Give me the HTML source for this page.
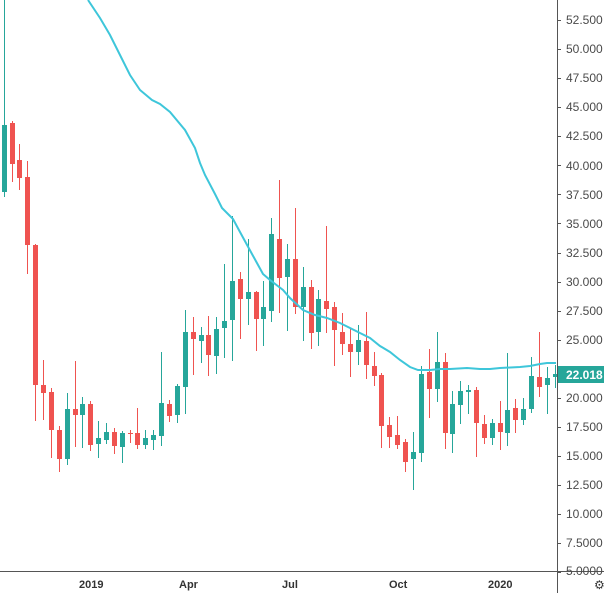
<!DOCTYPE html>
<html><head><meta charset="utf-8"><style>
html,body{margin:0;padding:0;background:#fff;width:604px;height:593px;overflow:hidden}
svg{display:block;font-family:"Liberation Sans",sans-serif}
.t{font-size:12px;fill:#4a4a4a}
.b{font-size:11px;fill:#333;font-weight:bold}
</style></head><body>
<svg id="s" width="604" height="593" viewBox="0 0 604 593">
<rect width="604" height="593" fill="#fff"/>
<g id="c"></g>
<polyline fill="none" stroke="#3ec6da" stroke-width="2" points="88,0 100,18 110,35 120,55 130,75 140,90 152,100 160,104 170,112 185,130 195,148 200,163 205,175 215,194 222,208 233,219 240,232 252,254 263,274 270,280 283,290 290,298 303,310 315,315 327,318 340,323 350,328 360,333 370,338 380,346 390,352 400,360 410,367 418,370 430,370 440,369 450,369 467,368 480,369 490,369 500,368 520,367 530,366 540,364 547,363 556,363"/>
<line x1="557.5" y1="0" x2="557.5" y2="593" stroke="#555"/>
<line x1="0" y1="571.5" x2="604" y2="571.5" stroke="#555"/>
<g id="ticks"></g>
<text class="t" x="566" y="24">52.500</text>
<text class="t" x="566" y="53">50.000</text>
<text class="t" x="566" y="82">47.500</text>
<text class="t" x="566" y="111">45.000</text>
<text class="t" x="566" y="140">42.500</text>
<text class="t" x="566" y="170">40.000</text>
<text class="t" x="566" y="199">37.500</text>
<text class="t" x="566" y="228">35.000</text>
<text class="t" x="566" y="257">32.500</text>
<text class="t" x="566" y="286">30.000</text>
<text class="t" x="566" y="315">27.500</text>
<text class="t" x="566" y="344">25.000</text>
<text class="t" x="566" y="402">20.000</text>
<text class="t" x="566" y="431">17.500</text>
<text class="t" x="566" y="460">15.000</text>
<text class="t" x="566" y="489">12.500</text>
<text class="t" x="566" y="518">10.000</text>
<text class="t" x="566" y="547">7.5000</text>
<text class="t" x="566" y="575">5.0000</text>
<rect x="558" y="366" width="46" height="17" fill="#26a69a"/>
<text x="566" y="379" font-size="12" font-weight="bold" fill="#fff">22.018</text>
<text class="b" x="79" y="588">2019</text>
<text class="b" x="179" y="588">Apr</text>
<text class="b" x="282" y="588">Jul</text>
<text class="b" x="389" y="588">Oct</text>
<text class="b" x="488" y="588">2020</text>
<text x="594" y="589" font-size="12" fill="#333">⚙</text>
</svg>
<script>
var d=[
[4,'g',125,192,0,197],[12,'r',123,164,121,182],[19,'r',160,178,144,190],[27,'r',177,245,161,274],[35,'r',245,385,244,421],[43,'r',385,393,360,420],[51,'r',392,430,388,458],[59,'r',430,459,426,472],[67,'g',409,459,393,465],[75,'r',409,415,361,447],[82,'g',404,415,397,448],[90,'r',404,445,401,451],[98,'g',438,444,421,458],[106,'g',432,440,423,444],[114,'r',432,446,428,454],[122,'g',433,447,431,463],[130,'r',433,434,430,443],[137,'r',433,445,408,449],[145,'g',438,445,430,449],[153,'g',435,440,430,450],[161,'g',403,436,352,446],[169,'r',404,416,400,422],[177,'g',386,415,384,423],[185,'g',332,387,310,414],[193,'r',332,339,317,375],[201,'g',335,341,327,363],[208,'r',335,355,316,376],[216,'g',329,356,317,374],[224,'g',321,328,264,358],[232,'g',281,320,216,361],[240,'r',279,299,272,339],[248,'g',292,299,239,325],[256,'r',292,319,291,351],[263,'g',307,319,281,346],[271,'g',234,311,218,322],[279,'r',239,278,180,313],[287,'g',259,277,244,331],[295,'r',259,307,208,314],[303,'g',287,307,267,341],[311,'r',287,333,280,349],[318,'g',299,332,290,346],[326,'r',301,309,226,333],[334,'r',307,330,302,366],[342,'r',332,344,313,355],[350,'r',344,352,329,377],[358,'g',340,352,325,365],[366,'r',341,365,312,379],[374,'r',366,376,352,386],[381,'r',375,426,373,448],[389,'r',425,437,417,448],[397,'r',435,445,416,449],[405,'r',442,462,439,472],[413,'g',452,459,432,490],[421,'g',374,453,366,462],[429,'r',372,389,349,418],[437,'g',362,389,332,402],[445,'r',362,433,353,449],[452,'g',404,434,391,453],[460,'g',391,405,381,424],[468,'g',390,392,385,414],[476,'r',390,423,387,457],[484,'r',424,438,415,444],[492,'g',423,438,419,445],[500,'r',423,432,401,450],[507,'g',410,433,353,446],[515,'r',408,420,399,433],[523,'g',409,420,398,425],[531,'g',376,409,357,413],[539,'r',377,387,332,397],[547,'g',378,385,367,414],[555,'g',374,377,365,388]];
var h='';d.forEach(function(c){var col=c[1]=='g'?'#26a69a':'#ef5350';
h+='<line x1="'+(c[0]+0.5)+'" x2="'+(c[0]+0.5)+'" y1="'+c[4]+'" y2="'+c[5]+'" stroke="'+col+'"/>';
h+='<rect x="'+(c[0]-2)+'" y="'+c[2]+'" width="5" height="'+Math.max(1,c[3]-c[2])+'" fill="'+col+'"/>';});
document.getElementById('c').innerHTML=h;
var t='';for(var i=0;i<20;i++){var y=Math.round(20+i*29.07)+0.5;t+='<line x1="557" x2="561" y1="'+y+'" y2="'+y+'" stroke="#555"/>';}
document.getElementById('ticks').innerHTML=t;
</script>
</body></html>
